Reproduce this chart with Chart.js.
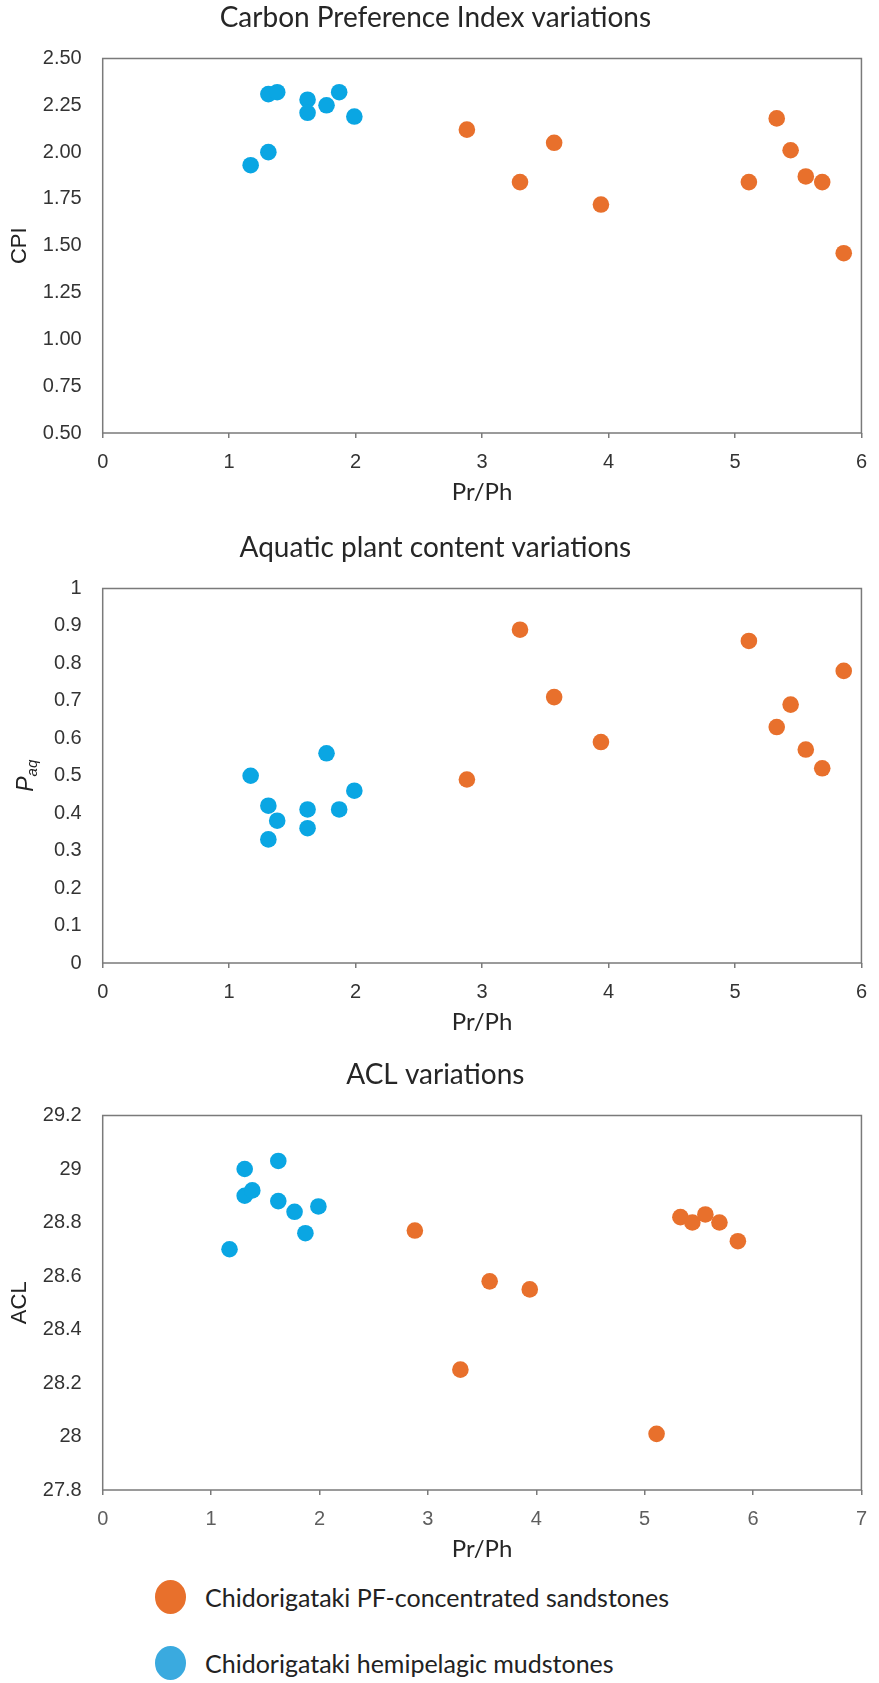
<!DOCTYPE html>
<html>
<head>
<meta charset="utf-8">
<script src="https://cdn.jsdelivr.net/npm/chart.js@4.4.1/dist/chart.umd.min.js"></script>
<style>
  body { margin: 0; background: #fff; width: 879px; height: 1683px; position: relative; overflow: hidden; }
  .panel { position: absolute; left: 0; width: 879px; height: 510px; }
  #leyenda { position: absolute; left: 0; top: 0; width: 879px; }
  .item { position: absolute; left: 155px; height: 34px; display: flex; align-items: center;
          font-family: "Lato", sans-serif; font-size: 25px; color: #222; white-space: nowrap; }
  .dot { width: 31px; height: 34px; border-radius: 50%; margin-right: 19px; }
</style>
</head>
<body>
<div class="panel" style="top:0px"><canvas id="grafico1"></canvas></div>
<div class="panel" style="top:530px"><canvas id="grafico2"></canvas></div>
<div class="panel" style="top:1057px"><canvas id="grafico3"></canvas></div>
<div id="leyenda"></div>
<script>
// series
const nombres = ["Chidorigataki PF-concentrated sandstones", "Chidorigataki hemipelagic mudstones"]
const colores = ["#E8702C", "#0AA6E3"]
const coloresLeyenda = ["#E8702C", "#3AAADF"]

// Pr/Ph (eje x, mismo para los tres graficos)
const prphArenisca = [2.88, 3.30, 3.57, 3.94, 5.11, 5.33, 5.44, 5.56, 5.69, 5.86]
const prphLutita = [1.17, 1.31, 1.31, 1.38, 1.62, 1.62, 1.77, 1.87, 1.99]

// CPI
const cpiArenisca = [2.12, 1.84, 2.05, 1.72, 1.84, 2.18, 2.01, 1.87, 1.84, 1.46]
const cpiLutita = [1.93, 2.00, 2.31, 2.32, 2.28, 2.21, 2.25, 2.32, 2.19]

// Paq
const paqArenisca = [0.49, 0.89, 0.71, 0.59, 0.86, 0.63, 0.69, 0.57, 0.52, 0.78]
const paqLutita = [0.50, 0.42, 0.33, 0.38, 0.41, 0.36, 0.56, 0.41, 0.46]

// ACL
const aclArenisca = [28.77, 28.25, 28.58, 28.55, 28.01, 28.82, 28.80, 28.83, 28.80, 28.73]
const aclLutita = [28.70, 29.00, 28.90, 28.92, 29.03, 28.88, 28.84, 28.76, 28.86]

// etiquetas de los ejes
const ticksCpi = ["0.50", "0.75", "1.00", "1.25", "1.50", "1.75", "2.00", "2.25", "2.50"]
const ticksPaq = ["0", "0.1", "0.2", "0.3", "0.4", "0.5", "0.6", "0.7", "0.8", "0.9", "1"]
const ticksAcl = ["27.8", "28", "28.2", "28.4", "28.6", "28.8", "29", "29.2"]
const ticksX6 = ["0", "1", "2", "3", "4", "5", "6"]
const ticksX7 = ["0", "1", "2", "3", "4", "5", "6", "7"]

const colorEje = "#7a7a7a"
const colorTexto = "#333333"

// marco alrededor del area del grafico
const marcoPlugin = {
  id: "marco",
  beforeDatasetsDraw(chart) {
    const { ctx, chartArea } = chart
    ctx.save()
    ctx.strokeStyle = colorEje
    ctx.lineWidth = 1.5
    ctx.strokeRect(chartArea.left, chartArea.top, chartArea.width, chartArea.height)
    ctx.restore()
  }
}

// titulo del eje y con subindice (P aq)
const tituloPaqPlugin = {
  id: "tituloPaq",
  afterDraw(chart) {
    const { ctx, chartArea } = chart
    const cy = (chartArea.top + chartArea.bottom) / 2
    ctx.save()
    ctx.translate(33, cy)
    ctx.rotate(-Math.PI / 2)
    ctx.fillStyle = "#222"
    ctx.textBaseline = "alphabetic"
    ctx.font = "italic 23px 'Liberation Sans'"
    const wP = ctx.measureText("P").width
    ctx.font = "italic 15px 'Liberation Sans'"
    const wSub = ctx.measureText("aq").width
    const x0 = -(wP + wSub) / 2
    ctx.font = "italic 23px 'Liberation Sans'"
    ctx.fillText("P", x0, 0)
    ctx.font = "italic 15px 'Liberation Sans'"
    ctx.fillText("aq", x0 + wP, 4)
    ctx.restore()
  }
}

const aPuntos = (xs, ys) => xs.map((x, i) => ({ x: x, y: ys[i] }))

function crear_grafico(id, titulo, yTitulo, ticksY, ticksX, serieA, serieB, colorTicksX, extra) {
  const valoresY = ticksY.map(t => parseFloat(t))
  const valoresX = ticksX.map(t => parseFloat(t))
  const canva = document.getElementById(id).getContext("2d")
  return new Chart(canva, {
    type: "scatter",
    data: {
      datasets: [
        { label: nombres[0], data: serieA, backgroundColor: colores[0], borderWidth: 0, pointRadius: 8.3 },
        { label: nombres[1], data: serieB, backgroundColor: colores[1], borderWidth: 0, pointRadius: 8.3 }
      ]
    },
    options: {
      responsive: true,
      maintainAspectRatio: false,
      animation: false,
      layout: { padding: { left: 0, right: 8.3, top: 0, bottom: 0 } },
      plugins: {
        legend: { display: false },
        tooltip: { enabled: false },
        title: {
          display: true,
          text: titulo,
          color: "#262626",
          font: { family: "Lato", size: 28, weight: "normal" },
          padding: { top: 1.2, bottom: 23.7 }
        }
      },
      scales: {
        x: {
          type: "linear",
          min: valoresX[0],
          max: valoresX[valoresX.length - 1],
          afterBuildTicks: s => { s.ticks = valoresX.map(v => ({ value: v })) },
          afterFit: s => { s.height = 77 },
          grid: { drawOnChartArea: false, drawTicks: true, tickLength: 5, color: colorEje, lineWidth: 1.5 },
          border: { display: false },
          ticks: {
            padding: 12,
            color: colorTicksX,
            font: { family: "Liberation Sans", size: 20 },
            callback: (v, i) => ticksX[i]
          },
          title: {
            display: true,
            text: "Pr/Ph",
            color: "#262626",
            font: { family: "Lato", size: 24 },
            padding: { top: 0, bottom: 3 }
          }
        },
        y: {
          type: "linear",
          min: valoresY[0],
          max: valoresY[valoresY.length - 1],
          afterBuildTicks: s => { s.ticks = valoresY.map(v => ({ value: v })) },
          afterFit: s => { s.width = 102.7 },
          grid: { display: false, drawTicks: false },
          border: { display: false },
          ticks: {
            padding: 21,
            color: colorTexto,
            font: { family: "Liberation Sans", size: 20 },
            callback: (v, i) => ticksY[i]
          },
          title: {
            display: yTitulo !== null,
            text: yTitulo || "",
            color: "#222",
            font: { family: "Liberation Sans", size: 22 },
            padding: { top: 7, bottom: 0 }
          }
        }
      }
    },
    plugins: [marcoPlugin].concat(extra || [])
  })
}

crear_grafico("grafico1", "Carbon Preference Index variations", "CPI", ticksCpi, ticksX6,
  aPuntos(prphArenisca, cpiArenisca), aPuntos(prphLutita, cpiLutita), colorTexto)

crear_grafico("grafico2", "Aquatic plant content variations", null, ticksPaq, ticksX6,
  aPuntos(prphArenisca, paqArenisca), aPuntos(prphLutita, paqLutita), colorTexto, [tituloPaqPlugin])

crear_grafico("grafico3", "ACL variations", "ACL", ticksAcl, ticksX7,
  aPuntos(prphArenisca, aclArenisca), aPuntos(prphLutita, aclLutita), "#5e5e5e")

// leyenda comun
const leyenda = document.getElementById("leyenda")
nombres.forEach((n, i) => {
  const item = document.createElement("div")
  item.className = "item"
  item.style.top = (1580 + i * 66) + "px"
  const dot = document.createElement("span")
  dot.className = "dot"
  dot.style.background = coloresLeyenda[i]
  const txt = document.createElement("span")
  txt.textContent = n
  item.appendChild(dot)
  item.appendChild(txt)
  leyenda.appendChild(item)
})
</script>
</body>
</html>
